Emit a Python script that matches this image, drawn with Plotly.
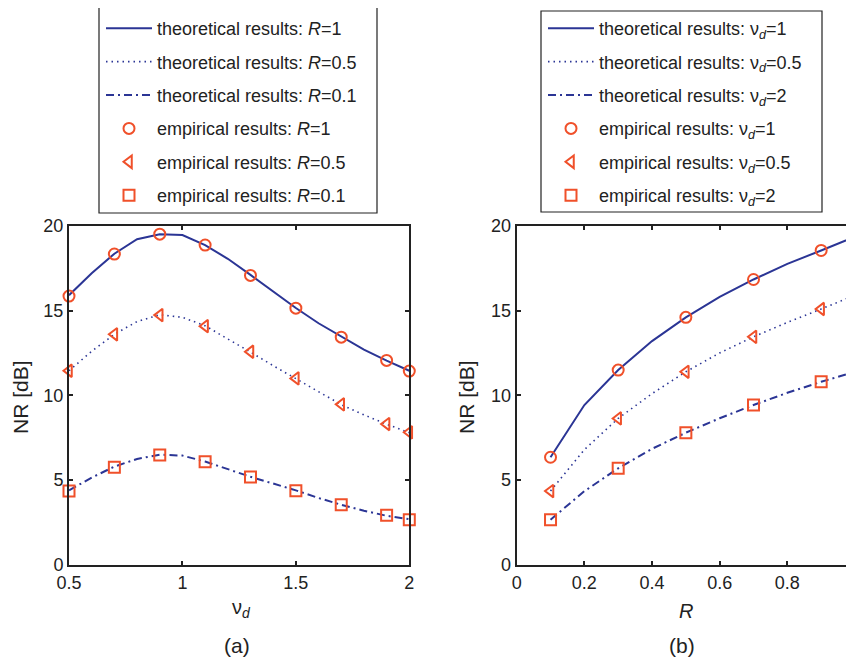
import plotly.graph_objects as go

# ---------------- data: panel (a) NR vs nu_d ----------------
vd_line = [0.5, 0.6, 0.7, 0.8, 0.9, 1.0, 1.1, 1.2, 1.3, 1.4, 1.5, 1.6, 1.7, 1.8, 1.9, 2.0]
a_theo_R1 = [15.9, 17.2, 18.35, 19.2, 19.5, 19.45, 18.85, 18.05, 17.1, 16.1, 15.15, 14.25, 13.45, 12.7, 12.05, 11.45]
a_theo_R05 = [11.45, 12.6, 13.6, 14.35, 14.75, 14.6, 14.1, 13.35, 12.55, 11.75, 11.0, 10.2, 9.45, 8.85, 8.3, 7.8]
a_theo_R01 = [4.4, 5.15, 5.8, 6.25, 6.5, 6.45, 6.1, 5.65, 5.2, 4.8, 4.4, 3.95, 3.55, 3.2, 2.9, 2.7]

vd_emp = [0.5, 0.7, 0.9, 1.1, 1.3, 1.5, 1.7, 1.9, 2.0]
a_emp_R1 = [15.85, 18.33, 19.5, 18.86, 17.07, 15.14, 13.43, 12.06, 11.43]
a_emp_R05 = [11.45, 13.6, 14.73, 14.08, 12.57, 11.0, 9.47, 8.31, 7.82]
a_emp_R01 = [4.36, 5.76, 6.48, 6.09, 5.19, 4.38, 3.55, 2.93, 2.67]

# ---------------- data: panel (b) NR vs R ----------------
R_line = [0.1, 0.2, 0.3, 0.4, 0.5, 0.6, 0.7, 0.8, 0.9, 1.0]
b_theo_v1 = [6.35, 9.43, 11.49, 13.2, 14.6, 15.8, 16.83, 17.75, 18.54, 19.35]
b_theo_v05 = [4.36, 6.8, 8.64, 10.1, 11.39, 12.5, 13.45, 14.3, 15.09, 15.9]
b_theo_v2 = [2.67, 4.35, 5.7, 6.85, 7.8, 8.65, 9.43, 10.15, 10.8, 11.39]

R_emp = [0.1, 0.3, 0.5, 0.7, 0.9, 1.0]
b_emp_v1 = [6.35, 11.49, 14.6, 16.83, 18.54, 19.35]
b_emp_v05 = [4.36, 8.64, 11.39, 13.45, 15.09, 15.9]
b_emp_v2 = [2.67, 5.7, 7.8, 9.43, 10.8, 11.39]

a_xticks = [0.5, 1, 1.5, 2]
a_xticklabels = ["0.5", "1", "1.5", "2"]
b_xticks = [0, 0.2, 0.4, 0.6, 0.8, 1.0]
b_xticklabels = ["0", "0.2", "0.4", "0.6", "0.8", "1"]
y_ticks = [0, 5, 10, 15, 20]

a_names_theo = ["theoretical results: <i>R</i>=1", "theoretical results: <i>R</i>=0.5", "theoretical results: <i>R</i>=0.1"]
a_names_emp = ["empirical results: <i>R</i>=1", "empirical results: <i>R</i>=0.5", "empirical results: <i>R</i>=0.1"]
b_names_theo = ["theoretical results: ν<sub><i>d</i></sub>=1", "theoretical results: ν<sub><i>d</i></sub>=0.5", "theoretical results: ν<sub><i>d</i></sub>=2"]
b_names_emp = ["empirical results: ν<sub><i>d</i></sub>=1", "empirical results: ν<sub><i>d</i></sub>=0.5", "empirical results: ν<sub><i>d</i></sub>=2"]

BLUE = "#2b3595"
RED = "#f0502a"
INK = "#222222"
dashes = ["solid", "1.5px,4px", "8px,4px,2px,4px"]
symbols = ["circle-open", "triangle-left-open", "square-open"]

fig = go.Figure()

def add_panel(xl, theo, xe, emp, names_t, names_e, xa, ya, leg, tag):
    for i in range(3):
        fig.add_trace(go.Scatter(x=xl, y=theo[i], mode="lines", name=names_t[i],
                                 line=dict(color=BLUE, width=2 if i != 1 else 1.6, dash=dashes[i]),
                                 xaxis=xa, yaxis=ya, legend=leg, legendgroup=f"{tag}t{i}",
                                 cliponaxis=False))
    for i in range(3):
        fig.add_trace(go.Scatter(x=xe, y=emp[i], mode="markers", name=names_e[i],
                                 marker=dict(symbol=symbols[i], color=RED, size=11,
                                             line=dict(color=RED, width=2)),
                                 xaxis=xa, yaxis=ya, legend=leg, legendgroup=f"{tag}e{i}",
                                 cliponaxis=False))

add_panel(vd_line, [a_theo_R1, a_theo_R05, a_theo_R01], vd_emp, [a_emp_R1, a_emp_R05, a_emp_R01],
          a_names_theo, a_names_emp, "x", "y", "legend", "a")
add_panel(R_line, [b_theo_v1, b_theo_v05, b_theo_v2], R_emp, [b_emp_v1, b_emp_v05, b_emp_v2],
          b_names_theo, b_names_emp, "x2", "y2", "legend2", "b")

W, H = 854, 657
OFF = 8  # page body margin


def px(x):
    return (x - OFF) / W


def py(y):
    return 1 - (y - OFF) / H


FAM = "Liberation Sans, Arial, sans-serif"
FONT = dict(family=FAM, size=18, color=INK)

axis_common = dict(showline=True, linecolor=INK, linewidth=2, mirror="ticks",
                   ticks="inside", ticklen=4, tickwidth=1.5, tickcolor=INK,
                   showgrid=False, zeroline=False, tickfont=FONT, automargin=False)

ydom = [py(565), py(225.7)]


def ann(text, x, y, size=20, angle=0):
    return dict(text=text, x=px(x), y=py(y), xref="paper", yref="paper", xanchor="center",
                yanchor="middle", showarrow=False, textangle=angle,
                font=dict(family=FAM, size=size, color=INK))


fig.update_layout(
    template="none",
    width=W, height=H,
    margin=dict(l=0, r=0, t=0, b=0, pad=0),
    paper_bgcolor="white", plot_bgcolor="white",
    font=FONT,
    xaxis=dict(domain=[px(69), px(409.3)], range=[0.5, 2], tickvals=a_xticks,
               ticktext=a_xticklabels, anchor="y", **axis_common),
    yaxis=dict(domain=ydom, range=[0, 20], tickvals=y_ticks, anchor="x", **axis_common),
    xaxis2=dict(domain=[px(516.7), px(855)], range=[0, 1.0], tickvals=b_xticks,
                ticktext=b_xticklabels, anchor="y2", **axis_common),
    yaxis2=dict(domain=ydom, range=[0, 20], tickvals=y_ticks, anchor="x2", **axis_common),
    legend=dict(x=px(101), y=py(10), xanchor="left", yanchor="top", bgcolor="rgba(0,0,0,0)",
                borderwidth=0, font=FONT, itemwidth=46, tracegroupgap=7, traceorder="grouped"),
    legend2=dict(x=px(543), y=py(10), xanchor="left", yanchor="top", bgcolor="rgba(0,0,0,0)",
                 borderwidth=0, font=FONT, itemwidth=46, tracegroupgap=7, traceorder="grouped"),
    shapes=[
        dict(type="rect", xref="paper", yref="paper", x0=px(99), x1=px(377),
             y0=py(213), y1=py(7), line=dict(color=INK, width=1.2), fillcolor="white",
             layer="below"),
        dict(type="rect", xref="paper", yref="paper", x0=px(541), x1=px(822),
             y0=py(212), y1=py(11), line=dict(color=INK, width=1.2), fillcolor="white",
             layer="below"),
    ],
    annotations=[
        ann("NR [dB]", 20, 397, 21, -90),
        ann("NR [dB]", 466, 397, 21, -90),
        ann("ν<sub><i>d</i></sub>", 241, 608, 20),
        ann("<i>R</i>", 686, 611, 20),
        ann("(a)", 236.7, 645, 21),
        ann("(b)", 682, 645, 21),
    ],
)

fig.write_html("out.html")
